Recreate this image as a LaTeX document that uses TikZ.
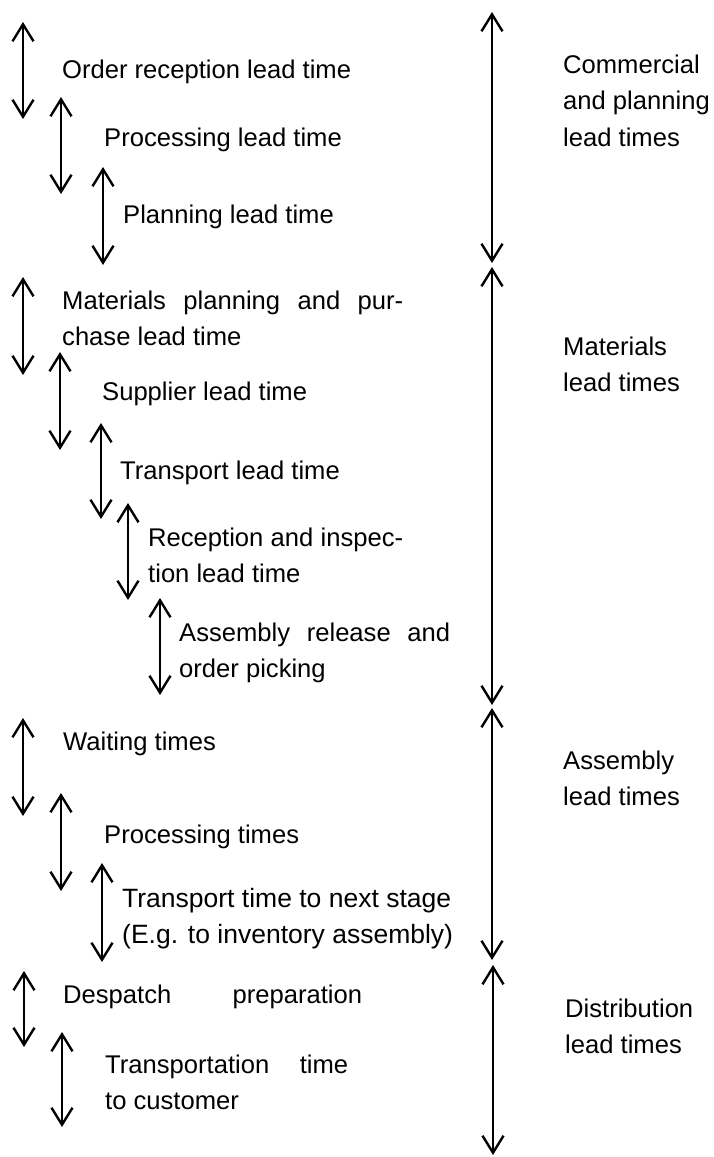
\documentclass[tikz,border=0pt]{standalone}
\usepackage{fontspec}
\setmainfont{Liberation Sans}
\usetikzlibrary{arrows.meta}
\newcommand{\twoline}[2]{\begin{tabular}[t]{@{}l@{}}#1\\#2\end{tabular}}

\begin{document}
\begin{tikzpicture}[x=1pt,y=1pt,
  leadspan/.style={line width=2.4pt,{Straight Barb[length=17pt,width=21pt]}-{Straight Barb[length=17pt,width=21pt]}},
  leadtext/.style={anchor=base west,inner sep=0pt,font=\fontsize{25.6}{36.5}\selectfont}]
\useasboundingbox (0,0) rectangle (714,-1157);
% lead time spans: name/x/top/bottom
\foreach \n/\x/\t/\b in {a1/23/22/119, a2/61/97/194, a3/103/167/265,
    b1/23/277/375, b2/60/352/450, b3/101/423/519, b4/128/503/600, b5/160/598/695,
    c1/23/718/816, c2/61/793/891, c3/102/863/962,
    d1/24/971/1047, d2/62/1032/1127,
    com/492/12/263, mat/492/267/705, asm/492/708/960, dis/493/965/1155} {
  \coordinate (\n t) at (\x,-\t);
  \coordinate (\n b) at (\x,-\b);
  \draw [leadspan] (\n t) -- (\n b);
}
% commercial and planning
\node [leadtext] (order) at (62,-78) {Order reception lead time};
\node [leadtext] (proc) at (104,-146) {Processing lead time};
\node [leadtext] (plan) at (123,-223) {Planning lead time};
% materials
\node [leadtext] (matplan) at (62,-309) {\twoline{\makebox[341pt][s]{Materials planning and pur-}}{chase lead time}};
\node [leadtext] (supp) at (102,-400) {Supplier lead time};
\node [leadtext] (trans) at (120,-479) {Transport lead time};
\node [leadtext] (recep) at (148,-546) {\twoline{\makebox[255pt][s]{Reception and inspec-}}{tion lead time}};
\node [leadtext] (release) at (179,-641) {\twoline{\makebox[271pt][s]{Assembly release and}}{order picking}};
% assembly
\node [leadtext] (wait) at (63,-750) {Waiting times};
\node [leadtext] (proct) at (104,-843) {Processing times};
\node [leadtext,font=\fontsize{26.5}{36.5}\selectfont] (next) at (122,-907) {\twoline{Transport time to next stage}{(E.g. to inventory assembly)}};
% distribution
\node [leadtext] (desp) at (63,-1003) {\makebox[299pt][s]{Despatch preparation}};
\node [leadtext] (cust) at (105,-1073) {\twoline{\makebox[243pt][s]{Transportation time}}{to customer}};
% groups
\node [leadtext] (comg) at (563,-73) {\begin{tabular}[t]{@{}l@{}}Commercial\\and planning\\lead times\end{tabular}};
\node [leadtext] (matg) at (563,-355) {\twoline{Materials}{lead times}};
\node [leadtext] (asmg) at (563,-769) {\twoline{Assembly}{lead times}};
\node [leadtext] (disg) at (565,-1017) {\twoline{Distribution}{lead times}};
\end{tikzpicture}
\end{document}
